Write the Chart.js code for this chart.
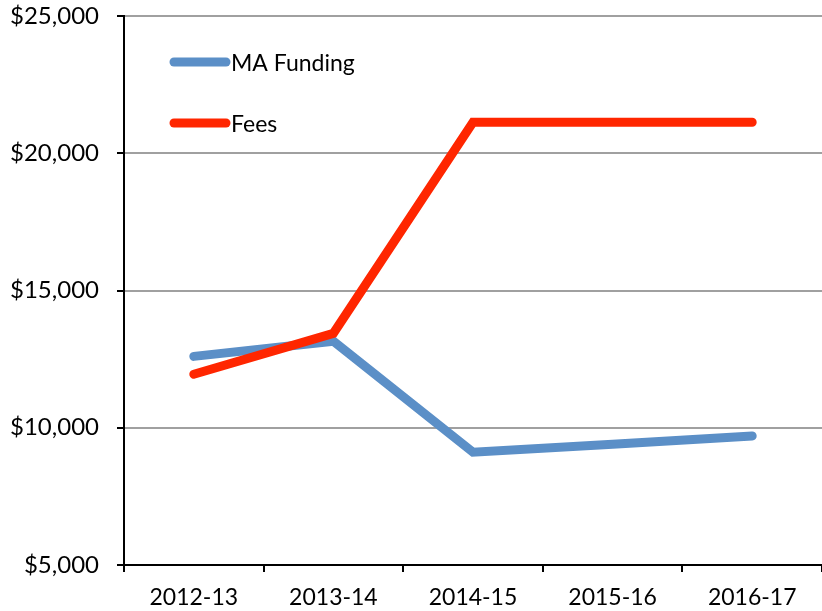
<!DOCTYPE html>
<html>
<head>
<meta charset="utf-8">
<script src="https://cdn.jsdelivr.net/npm/chart.js@4"></script>
<style>
html,body{margin:0;padding:0;background:#fff;}
#wrap{width:822px;height:611px;position:relative;}
</style>
</head>
<body>
<div id="wrap"><canvas id="c" width="822" height="611"></canvas></div>
<script>
const categories = ["2012-13", "2013-14", "2014-15", "2015-16", "2016-17"];
const maFunding = [12600, 13150, 9110, 9400, 9700];
const fees = [11950, 13440, 21130, 21130, 21130];
const yTicks = [5000, 10000, 15000, 20000, 25000];
const seriesNames = ["MA Funding", "Fees"];

const FONT = "Lato, 'Open Sans', sans-serif";

const insideLegend = {
  id: 'insideLegend',
  afterDatasetsDraw(chart) {
    const ctx = chart.ctx;
    const items = [
      {y: 62, ds: chart.data.datasets[0]},
      {y: 123, ds: chart.data.datasets[1]}
    ];
    ctx.save();
    items.forEach(it => {
      ctx.strokeStyle = it.ds.borderColor;
      ctx.lineWidth = 9;
      ctx.lineCap = 'round';
      ctx.beginPath();
      ctx.moveTo(174, it.y);
      ctx.lineTo(226, it.y);
      ctx.stroke();
      ctx.fillStyle = '#000';
      ctx.font = "23px " + FONT;
      ctx.textBaseline = 'middle';
      ctx.textAlign = 'left';
      ctx.fillText(it.ds.label, 231, it.y + 2);
    });
    ctx.restore();
  }
};

new Chart(document.getElementById('c'), {
  type: 'line',
  data: {
    labels: categories,
    datasets: [
      {label: seriesNames[0], data: maFunding, borderColor: '#5B8FC7', backgroundColor: '#5B8FC7',
       borderWidth: 9, pointRadius: 0, tension: 0, borderCapStyle: 'round', borderJoinStyle: 'miter', order: 2},
      {label: seriesNames[1], data: fees, borderColor: '#FF2600', backgroundColor: '#FF2600',
       borderWidth: 9, pointRadius: 0, tension: 0, borderCapStyle: 'round', borderJoinStyle: 'miter', order: 1}
    ]
  },
  options: {
    responsive: false,
    animation: false,
    events: [],
    layout: {padding: {top: 16, right: 0, left: 0, bottom: 0}},
    plugins: {legend: {display: false}, tooltip: {enabled: false}, title: {display: false}},
    scales: {
      x: {
        type: 'category',
        offset: true,
        grid: {display: true, drawOnChartArea: false, drawTicks: true, tickLength: 7, color: '#000', lineWidth: 2, offset: true},
        border: {display: true, color: '#000', width: 2},
        ticks: {color: '#000', font: {family: FONT, size: 23}, padding: 12, maxRotation: 0, autoSkip: false},
        afterFit(scale) { scale.height = 46; }
      },
      y: {
        min: 5000, max: 25000,
        afterBuildTicks(scale) { scale.ticks = yTicks.map(v => ({value: v})); },
        grid: {color: '#A0A0A0', lineWidth: 2, drawTicks: true, tickLength: 7, tickColor: '#000', tickWidth: 2},
        border: {display: true, color: '#000', width: 2},
        ticks: {color: '#000', font: {family: FONT, size: 24}, padding: 18,
          callback: (v) => '$' + Number(v).toLocaleString('en-US')},
        afterFit(scale) { scale.width = 124; scale.paddingTop = 0; scale.paddingBottom = 0; }
      }
    }
  },
  plugins: [insideLegend]
});
</script>
</body>
</html>
